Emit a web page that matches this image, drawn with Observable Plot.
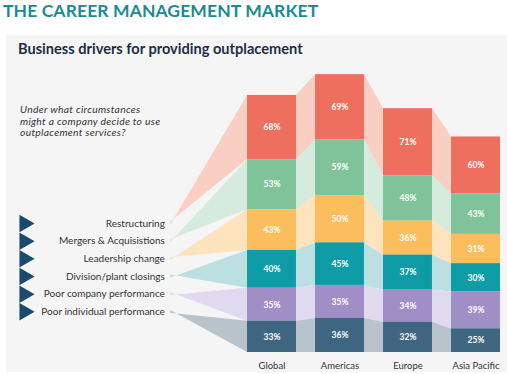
<!DOCTYPE html>
<html>
<head>
<meta charset="utf-8">
<script src="https://cdn.jsdelivr.net/npm/d3@7"></script>
<script src="https://cdn.jsdelivr.net/npm/@observablehq/plot@0.6"></script>
<style>
  body { margin: 0; background: #fff; font-family: Lato, "Open Sans", sans-serif; }
  #wrap { position: relative; width: 507px; height: 374px; overflow: hidden; }
  #title { position: absolute; left: 3px; top: 0px; font-size: 17.5px; font-weight: 700; color: #1a8b92; letter-spacing: 0.1px; white-space: nowrap; }
  #panel { position: absolute; left: 6px; top: 35px; width: 501px; height: 337px; background: #f5f5f5; }
  #subtitle { position: absolute; left: 18px; top: 40px; font-size: 14.6px; font-weight: 700; color: #1d2e44; white-space: nowrap; }
  #question { position: absolute; left: 20px; top: 104px; font-size: 10.3px; line-height: 11.5px; letter-spacing: 0.3px; font-style: italic; color: #333; white-space: nowrap; }
  #chart { position: absolute; left: 0; top: 35px; }
</style>
</head>
<body>
<div id="wrap">
  <div id="title">THE CAREER MANAGEMENT MARKET</div>
  <div id="panel"></div>
  <div id="subtitle">Business drivers for providing outplacement</div>
  <div id="question">Under what circumstances<br>might a company decide to use<br>outplacement services?</div>
  <div id="chart"></div>
</div>
<script>
// ---- data ----
const regions = ["Global", "Americas", "Europe", "Asia Pacific"];
const drivers = ["Restructuring", "Mergers & Acquisistions", "Leadership change", "Division/plant closings", "Poor company performance", "Poor individual performance"];
const restructuring = [68, 69, 71, 60];
const mergers = [53, 59, 48, 43];
const leadership = [43, 50, 36, 31];
const division = [40, 45, 37, 30];
const poorCompany = [35, 35, 34, 39];
const poorIndividual = [33, 36, 32, 25];

// ---- styles ----
const dark = ["#ee6f5d", "#80c39a", "#fcbd5c", "#0e9da7", "#a08fc7", "#3e6680"];
const light = ["#f9cfc3", "#d4ebdd", "#fde4bd", "#bcdfe2", "#dfdaee", "#b8c3cc"];

const seriesTopDown = [restructuring, mergers, leadership, division, poorCompany, poorIndividual];

// stack from bottom (Poor individual) up to Restructuring
const rows = [];
regions.forEach((r, i) => {
  let cum = 0;
  for (let k = drivers.length - 1; k >= 0; k--) {
    const v = seriesTopDown[k][i];
    rows.push({region: r, i, k, driver: drivers[k], value: v, y1: cum, y2: cum + v});
    cum += v;
  }
});

// layout in scale units
const half = 0.36;          // bar half-width (x units: 1 = bar spacing)
const apexX = -1.49;        // wedge apex
const labelX = -1.575;      // legend label right edge
const markerX = -3.64;      // legend triangle
const legendY0 = 136.5, legendStep = 18.7;
const legendY = k => legendY0 - legendStep * k;

const marks = [];
// connecting bands + wedges
drivers.forEach((d, k) => {
  const pts = [{x: apexX, y1: legendY(k) + 1.5, y2: legendY(k) - 1.5}];
  rows.filter(r => r.k === k).forEach(r => {
    pts.push({x: r.i - half, y1: r.y1, y2: r.y2});
    pts.push({x: r.i + half, y1: r.y1, y2: r.y2});
  });
  marks.push(Plot.areaY(pts, {x: "x", y1: "y1", y2: "y2", fill: light[k]}));
});
// bars
drivers.forEach((d, k) => {
  marks.push(Plot.rectY(rows.filter(r => r.k === k), {x1: r => r.i - half, x2: r => r.i + half, y1: "y1", y2: "y2", fill: dark[k]}));
});
// value labels
marks.push(Plot.text(rows, {x: "i", y: r => (r.y1 + r.y2) / 2, text: r => r.value + "%", fill: "white", fontWeight: "bold", fontSize: 8.5}));
// region labels
marks.push(Plot.text(regions, {x: (d, i) => i, y: 0, text: d => d, dy: 13, fill: "#333", fontSize: 9.5}));
// legend
marks.push(Plot.text(drivers, {x: labelX, y: (d, k) => legendY(k), text: d => d, textAnchor: "end", fill: "#333", fontSize: 10}));
marks.push(Plot.dot(drivers, {x: markerX, y: (d, k) => legendY(k), symbol: "triangle", rotate: 90, r: 6.5, fill: "#1b4b6c"}));

const W = 507, H = 339;
const pxPerUnit = 68, center0 = 271.5;
const yPx = 0.945, baseline = 317;
const chart = Plot.plot({
  width: W,
  height: H,
  marginLeft: 0, marginRight: 0,
  marginBottom: H - baseline,
  marginTop: baseline - 300 * yPx,
  x: {domain: [-center0 / pxPerUnit, (W - center0) / pxPerUnit], axis: null},
  y: {domain: [0, 300], axis: null},
  style: {background: "transparent", fontFamily: "Lato, 'Open Sans', sans-serif"},
  marks
});
document.getElementById("chart").appendChild(chart);
</script>
</body>
</html>
